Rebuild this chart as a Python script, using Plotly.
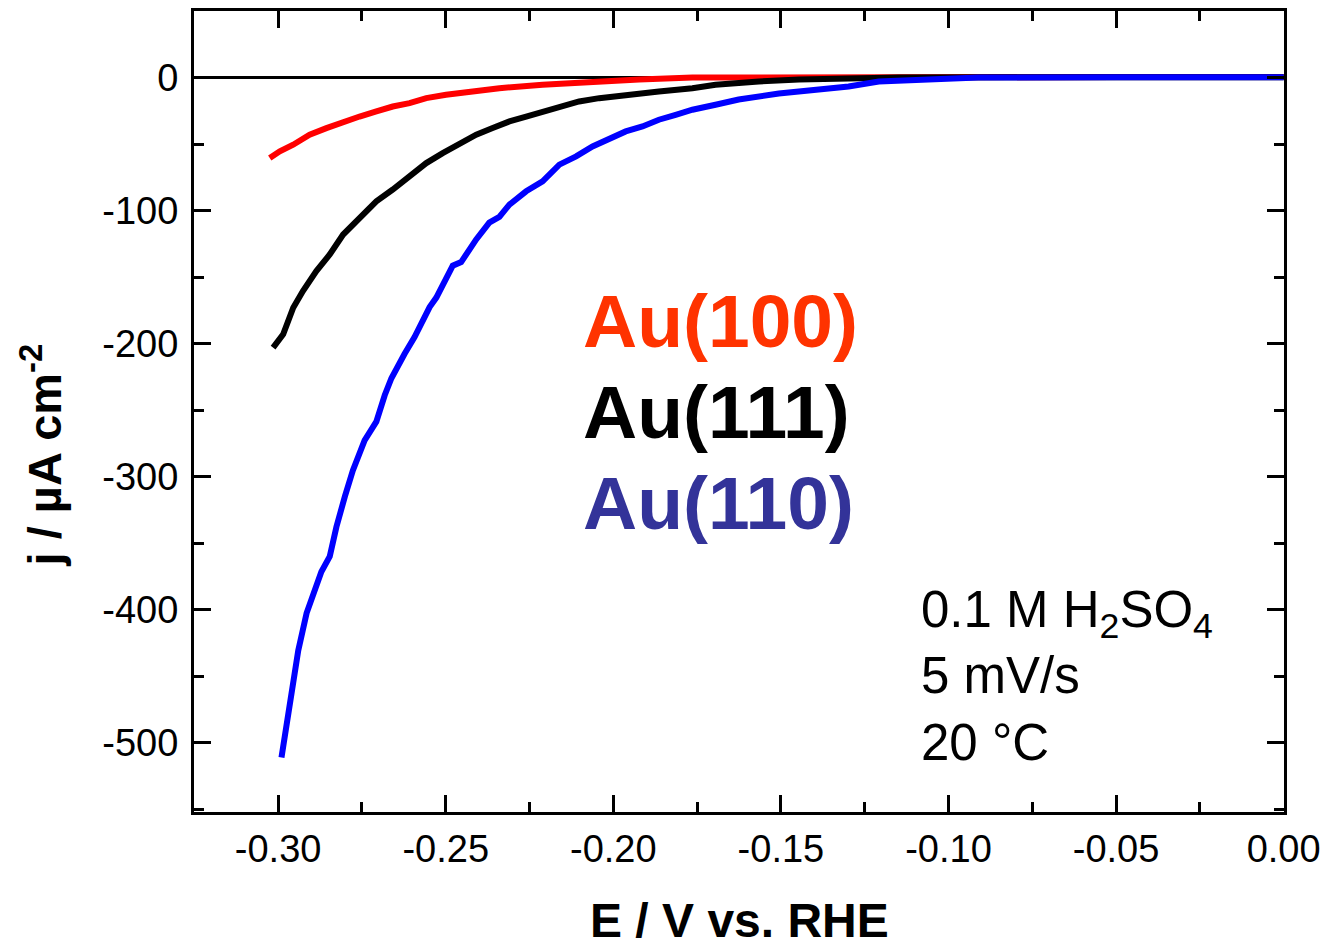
import plotly.graph_objects as go

# Linear sweep voltammetry (cathodic HER region) on Au single crystals
e_au100 = [-0.3025, -0.2995, -0.2955, -0.2906, -0.2856, -0.2806, -0.2757, -0.2707,
           -0.2658, -0.2608, -0.2558, -0.2499, -0.2419, -0.2340, -0.2211, -0.2062,
           -0.1923, -0.1764, -0.1500, -0.1000, -0.0500, 0.0000]
j_au100 = [-60.5, -55.5, -50.5, -43.0, -38.0, -33.0, -29.3, -25.5,
           -21.8, -19.3, -15.5, -13.0, -10.5, -8.0, -5.5, -3.0,
           -1.5, 0.0, 0.3, 0.4, 0.4, 0.4]

e_au111 = [-0.3015, -0.2985, -0.2955, -0.2926, -0.2886, -0.2846, -0.2806, -0.2757,
           -0.2707, -0.2658, -0.2608, -0.2558, -0.2509, -0.2459, -0.2409, -0.2360,
           -0.2310, -0.2260, -0.2211, -0.2161, -0.2102, -0.2042, -0.1963, -0.1864,
           -0.1764, -0.1695, -0.1566, -0.1446, -0.1298, -0.1149, -0.0800, -0.0400, 0.0000]
j_au111 = [-203.0, -193.0, -173.0, -160.5, -145.5, -133.0, -118.0, -105.5,
           -93.0, -84.2, -74.3, -64.3, -56.8, -49.3, -43.0, -38.0,
           -33.0, -29.3, -25.5, -21.8, -18.0, -15.5, -13.0, -10.5,
           -8.0, -5.5, -3.0, -1.5, -0.8, 0.0, 0.3, 0.3, 0.3]

e_au110 = [-0.2990, -0.2965, -0.2940, -0.2915, -0.2886, -0.2871, -0.2846, -0.2826,
           -0.2801, -0.2777, -0.2742, -0.2707, -0.2682, -0.2662, -0.2623, -0.2593,
           -0.2548, -0.2528, -0.2479, -0.2454, -0.2409, -0.2370, -0.2340, -0.2310,
           -0.2260, -0.2211, -0.2161, -0.2111, -0.2062, -0.2012, -0.1963, -0.1913,
           -0.1864, -0.1814, -0.1764, -0.1695, -0.1626, -0.1506, -0.1387, -0.1298,
           -0.1208, -0.1089, -0.0911, -0.0500, 0.0000]
j_au110 = [-511.0, -467.4, -430.7, -402.5, -380.0, -371.5, -360.0, -337.6,
           -315.0, -295.3, -272.7, -258.6, -238.8, -226.0, -207.8, -195.0,
           -172.5, -165.4, -141.4, -138.7, -121.7, -109.0, -104.8, -95.5,
           -85.5, -78.0, -65.5, -59.3, -51.8, -45.5, -40.5, -36.8,
           -31.7, -28.0, -24.2, -20.5, -16.5, -12.0, -9.0, -6.8,
           -3.0, -1.5, 0.0, 0.3, 0.3]

x_tick_vals = [-0.30, -0.25, -0.20, -0.15, -0.10, -0.05, 0.00]
x_tick_text = ["-0.30", "-0.25", "-0.20", "-0.15", "-0.10", "-0.05", "0.00"]
y_tick_vals = [0, -100, -200, -300, -400, -500]
y_tick_text = ["0", "-100", "-200", "-300", "-400", "-500"]

FONT = "Liberation Sans, Arial, sans-serif"

fig = go.Figure()
for e, j, c in [(e_au100, j_au100, "#ff0000"),
                (e_au111, j_au111, "#000000"),
                (e_au110, j_au110, "#0000ff")]:
    fig.add_trace(go.Scatter(x=e, y=j, mode="lines",
                             line=dict(color=c, width=6), showlegend=False))

axis_common = dict(
    showline=True, linecolor="black", linewidth=3, mirror="allticks",
    ticks="inside", ticklen=17, tickwidth=3, tickcolor="black",
    showgrid=False, tickfont=dict(family=FONT, size=38, color="black"),
)

fig.update_xaxes(range=[-0.3251, 0.0001], tickvals=x_tick_vals, ticktext=x_tick_text,
                 zeroline=False, ticklabelstandoff=1,
                 minor=dict(dtick=0.025, tick0=0, ticks="inside", ticklen=10,
                            tickwidth=3, tickcolor="black", showgrid=False),
                 **axis_common)
fig.update_yaxes(range=[-552, 50], tickvals=y_tick_vals, ticktext=y_tick_text,
                 zeroline=True, zerolinecolor="black", zerolinewidth=3,
                 ticklabelstandoff=5,
                 minor=dict(dtick=50, tick0=0, ticks="inside", ticklen=10,
                            tickwidth=3, tickcolor="black", showgrid=False),
                 **axis_common)

labels = [("Au(100)", "#ff3300", -183), ("Au(111)", "#000000", -251),
          ("Au(110)", "#333399", -319.5)]
for txt, col, yv in labels:
    fig.add_annotation(x=-0.2096, y=yv, xref="x", yref="y", text=f"<b>{txt}</b>",
                       showarrow=False, xanchor="left", yanchor="middle",
                       font=dict(family=FONT, size=75, color=col))

fig.add_annotation(x=-0.1089, y=-377, xref="x", yref="y",
                   text="0.1 M H<sub>2</sub>SO<sub>4</sub><br>5 mV/s<br>20 °C",
                   showarrow=False, xanchor="left", yanchor="top", align="left",
                   font=dict(family=FONT, size=51, color="black"))

fig.add_annotation(x=0.5, y=0, xref="paper", yref="paper", yshift=-80,
                   text="<b>E / V vs. RHE</b>", showarrow=False,
                   xanchor="center", yanchor="top",
                   font=dict(family=FONT, size=48, color="black"))
fig.add_annotation(x=0, y=-284, xref="paper", yref="y", xshift=-152,
                   text="<b>j / µA cm<sup>-2</sup></b>", textangle=-90,
                   showarrow=False, xanchor="center", yanchor="middle",
                   font=dict(family=FONT, size=47, color="black"))

fig.update_layout(width=1329, height=940,
                  margin=dict(l=194, r=43, t=8, b=128),
                  paper_bgcolor="white", plot_bgcolor="white")

fig.write_html("out.html")
